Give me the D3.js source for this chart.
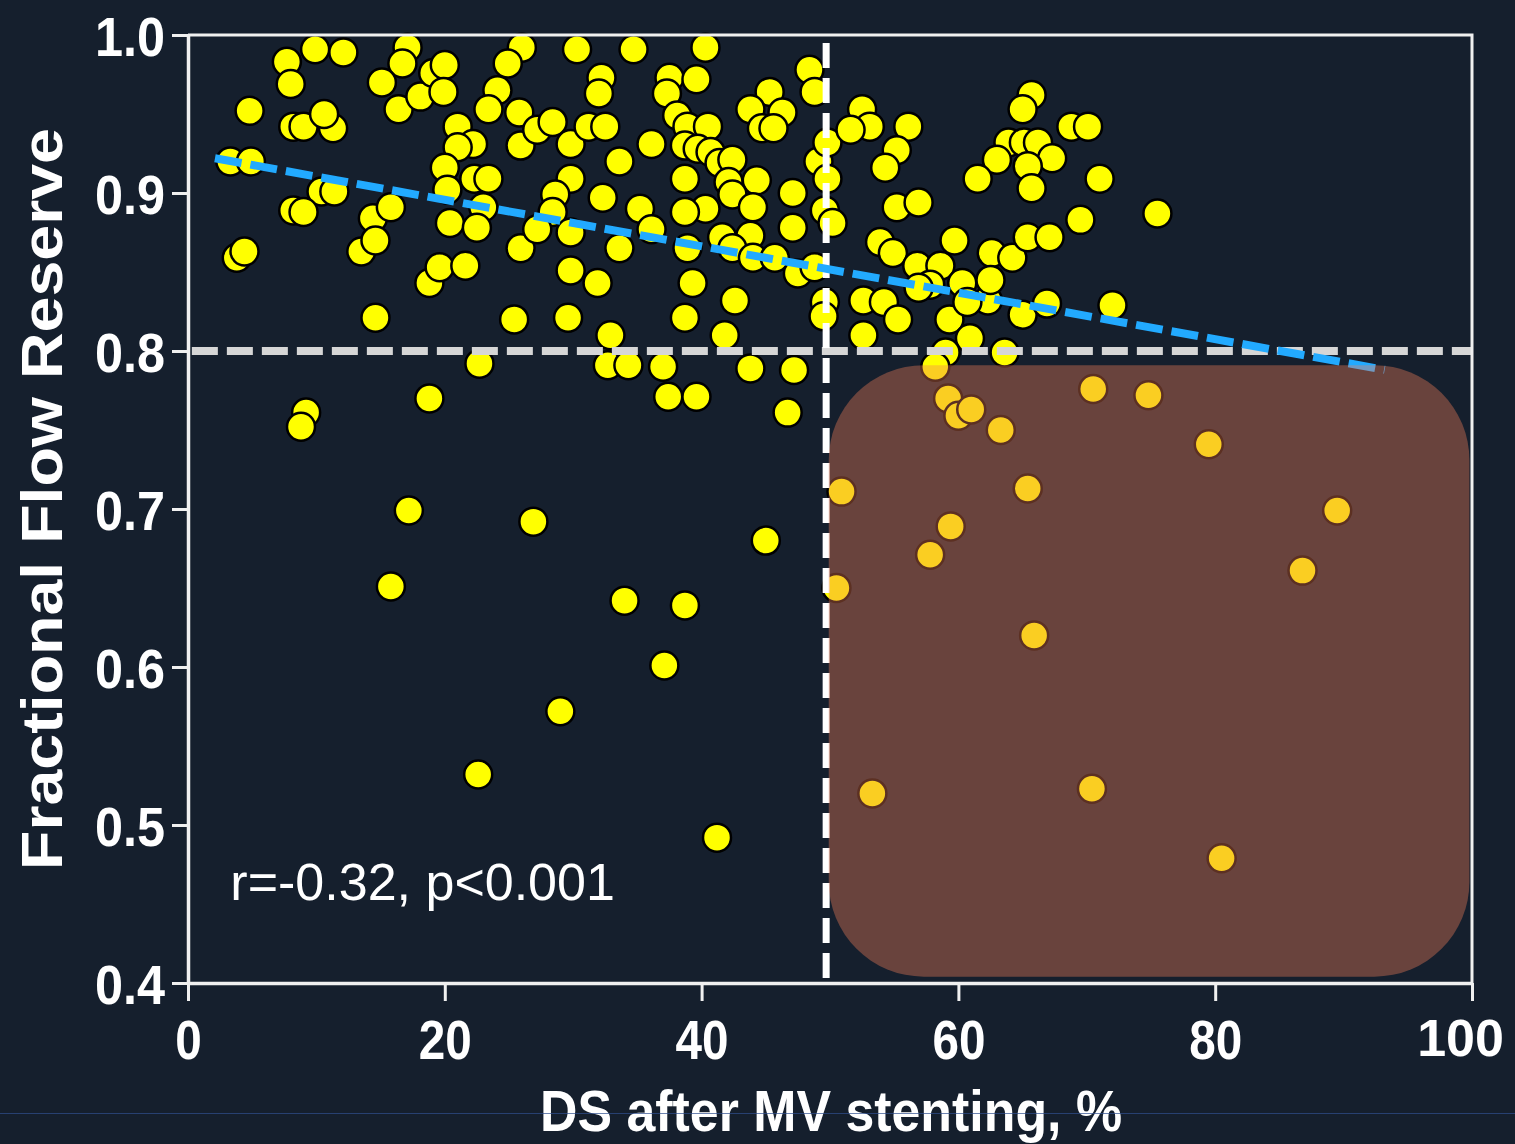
<!DOCTYPE html>
<html>
<head>
<meta charset="utf-8">
<script src="https://cdn.jsdelivr.net/npm/d3@7"></script>
<style>
  html, body { margin: 0; padding: 0; background: #151f2d; }
  svg { display: block; }
</style>
</head>
<body>
<svg id="chart" width="1515" height="1144"></svg>
<script>
// axis ticks
const xTicks = [0, 20, 40, 60, 80, 100];
const yTicks = [0.4, 0.5, 0.6, 0.7, 0.8, 0.9, 1.0];

// DS after MV stenting (%) and FFR, one entry per lesion
const dsValues = [
  7.7, 9.9, 12.1, 8.0, 4.8, 8.2, 9.0, 11.3, 10.6, 3.3, 4.9, 10.4, 11.4, 8.2, 9.0, 3.8, 4.4,
  14.4, 15.8, 13.5, 14.6, 17.1, 16.7, 15.1, 16.4, 18.1, 19.1, 20.0, 19.9, 26.0, 24.9, 24.1,
  23.4, 25.8, 25.9, 21.0, 22.2, 21.0, 20.0, 22.3, 23.4, 20.2, 23.0, 20.4, 22.5, 25.9, 18.8,
  19.6, 21.6, 14.6, 25.4, 22.7, 18.8, 9.2, 8.8, 27.2,
  30.3, 34.7, 40.3, 32.2, 32.0, 37.5, 39.6, 37.3, 38.1, 38.9, 40.5, 48.4, 48.8, 45.3, 46.3,
  43.8, 44.7, 45.6, 28.4, 29.8, 31.2, 32.5, 36.1, 38.7, 39.7, 40.7, 41.4, 42.4, 33.6, 29.8,
  28.6, 32.3, 38.7, 42.1, 44.3, 42.4, 44.0, 40.3, 38.7, 35.2, 28.4, 47.1, 49.1, 49.8, 49.8,
  49.6, 50.2, 47.1, 27.2, 29.8, 33.6, 36.1, 38.9, 41.6, 43.8, 42.4, 44.0, 45.7, 47.5, 48.8,
  29.8, 31.9, 39.3, 42.6, 29.6, 38.7, 41.8, 32.9, 49.6, 49.5, 32.7, 34.3, 37.0, 43.8, 47.2,
  37.4, 39.6, 46.7,
  52.5, 53.1, 51.6, 56.1, 55.2, 54.3, 55.2, 56.9, 53.9, 54.9, 56.8, 58.6, 59.7, 57.8, 56.9,
  60.3, 52.6, 54.2, 55.3, 52.6, 59.3, 60.9, 59.0, 65.7, 65.0, 68.8, 70.1, 63.9, 65.1, 66.2,
  67.3, 63.0, 61.5, 65.4, 65.7, 71.0, 75.5, 69.5, 62.6, 64.2, 65.4, 67.1, 62.3, 62.5, 60.7,
  65.0, 66.9, 72.0, 63.6,
  58.2, 59.2, 60.0, 61.0, 63.3, 70.5, 74.8, 79.5, 50.9, 65.4, 89.5, 59.4, 57.8, 86.8, 50.5,
  65.9, 53.3, 70.4, 80.5,
  17.2, 26.9, 45.0, 15.8, 34.0, 38.7, 37.1, 29.0, 22.6, 41.2
];
const ffrValues = [
  0.983, 0.991, 0.989, 0.969, 0.952, 0.942, 0.942, 0.941, 0.950, 0.920, 0.920, 0.901, 0.901, 0.889, 0.888, 0.859, 0.863,
  0.884, 0.891, 0.863, 0.870, 0.992, 0.982, 0.970, 0.953, 0.961, 0.976, 0.981, 0.964, 0.992, 0.982, 0.965,
  0.953, 0.951, 0.930, 0.942, 0.931, 0.929, 0.916, 0.909, 0.909, 0.902, 0.891, 0.881, 0.878, 0.865, 0.843,
  0.853, 0.854, 0.821, 0.820, 0.792, 0.770, 0.761, 0.752, 0.940,
  0.991, 0.991, 0.992, 0.973, 0.963, 0.973, 0.972, 0.963, 0.949, 0.942, 0.942, 0.978, 0.964, 0.964, 0.951,
  0.953, 0.941, 0.941, 0.945, 0.931, 0.942, 0.942, 0.931, 0.930, 0.928, 0.926, 0.919, 0.921, 0.920, 0.909,
  0.899, 0.897, 0.909, 0.907, 0.908, 0.899, 0.891, 0.890, 0.888, 0.890, 0.888, 0.900, 0.920, 0.932, 0.909,
  0.889, 0.881, 0.878, 0.877, 0.875, 0.865, 0.877, 0.865, 0.872, 0.873, 0.865, 0.859, 0.859, 0.849, 0.853,
  0.851, 0.843, 0.843, 0.832, 0.821, 0.821, 0.810, 0.810, 0.831, 0.822, 0.791, 0.791, 0.790, 0.789, 0.788,
  0.771, 0.771, 0.761,
  0.953, 0.942, 0.940, 0.942, 0.927, 0.916, 0.891, 0.894, 0.869, 0.862, 0.854, 0.854, 0.870, 0.842, 0.840,
  0.843, 0.832, 0.831, 0.820, 0.810, 0.820, 0.808, 0.799, 0.962, 0.953, 0.942, 0.942, 0.932, 0.932, 0.932,
  0.922, 0.921, 0.909, 0.917, 0.903, 0.909, 0.887, 0.883, 0.862, 0.859, 0.872, 0.872, 0.832, 0.845, 0.831,
  0.823, 0.830, 0.829, 0.799,
  0.790, 0.770, 0.759, 0.763, 0.750, 0.776, 0.772, 0.741, 0.711, 0.713, 0.699, 0.689, 0.671, 0.661, 0.650,
  0.620, 0.520, 0.523, 0.479,
  0.699, 0.692, 0.680, 0.651, 0.642, 0.639, 0.601, 0.572, 0.532, 0.492
];

// regression line (FFR = intercept + slope * DS) and cut-offs
const fitLine = { intercept: 0.9251, slope: -0.00147, from: 2.1, to: 93.2 };
const ffrCutoff = 0.8;
const dsCutoff = 49.7;
// shaded quadrant (DS range, FFR range)
const shadeDs = [49.9, 99.8];
const shadeFfr = [0.404, 0.791];
const corrText = "r=-0.32, p<0.001";

const W = 1515, H = 1144;
const margin = { top: 35, right: 43, bottom: 161, left: 188 };

const svg = d3.select("#chart");
const font = "'Liberation Sans', Arial, sans-serif";

svg.append("rect").attr("width", W).attr("height", H).attr("fill", "#151f2d");

const x = d3.scaleLinear().domain([0, 100]).range([margin.left, W - margin.right]);
const y = d3.scaleLinear().domain([0.4, 1.0]).range([H - margin.bottom, margin.top]);

const points = dsValues.map((d, i) => ({ ds: d, ffr: ffrValues[i] }));

// Points
svg.append("g")
  .selectAll("circle")
  .data(points)
  .enter()
  .append("circle")
  .attr("cx", d => x(d.ds))
  .attr("cy", d => y(d.ffr))
  .attr("r", 14)
  .attr("fill", "#ffff00")
  .attr("stroke", "#000")
  .attr("stroke-width", 2.5);

// FFR 0.8 cut-off
svg.append("line")
  .attr("x1", x(0.3)).attr("x2", x(100))
  .attr("y1", y(ffrCutoff)).attr("y2", y(ffrCutoff))
  .attr("stroke", "#d6d6d6")
  .attr("stroke-width", 8)
  .attr("stroke-dasharray", "26,9");

// DS 50% cut-off
svg.append("line")
  .attr("x1", x(dsCutoff)).attr("x2", x(dsCutoff))
  .attr("y1", y(0.995)).attr("y2", y(0.4))
  .attr("stroke", "#ffffff")
  .attr("stroke-width", 7)
  .attr("stroke-dasharray", "25,10");

// regression line
svg.append("line")
  .attr("x1", x(fitLine.from))
  .attr("y1", y(fitLine.intercept + fitLine.slope * fitLine.from))
  .attr("x2", x(fitLine.to))
  .attr("y2", y(fitLine.intercept + fitLine.slope * fitLine.to))
  .attr("stroke", "#22aaff")
  .attr("stroke-width", 8)
  .attr("stroke-dasharray", "27,9");

// shaded quadrant drawn over the marks
svg.append("rect")
  .attr("x", x(shadeDs[0]))
  .attr("y", y(shadeFfr[1]))
  .attr("width", x(shadeDs[1]) - x(shadeDs[0]))
  .attr("height", y(shadeFfr[0]) - y(shadeFfr[1]))
  .attr("rx", 95).attr("ry", 95)
  .attr("fill", "rgb(242,126,90)")
  .attr("opacity", 0.38);

// frame (top + right)
svg.append("path")
  .attr("d", `M${x(0)},${y(1)}H${x(100)}V${y(0.4)}`)
  .attr("fill", "none")
  .attr("stroke", "#f0f0f0")
  .attr("stroke-width", 3);

// Axes
const yAxis = svg.append("g")
  .attr("transform", `translate(${x(0)},0)`)
  .call(d3.axisLeft(y).tickValues(yTicks).tickFormat(d3.format(".1f"))
    .tickSize(16).tickSizeOuter(0).tickPadding(7));

const xAxis = svg.append("g")
  .attr("transform", `translate(0,${y(0.4)})`)
  .call(d3.axisBottom(x).tickValues(xTicks).tickFormat(d3.format("d"))
    .tickSize(18).tickSizeOuter(0).tickPadding(18));

[yAxis, xAxis].forEach(ax => {
  ax.select(".domain").attr("stroke", "#f0f0f0").attr("stroke-width", 3.5);
  ax.selectAll(".tick line").attr("stroke", "#f0f0f0").attr("stroke-width", 3);
  ax.selectAll(".tick text")
    .attr("fill", "#ffffff")
    .attr("font-family", font)
    .attr("font-weight", "bold")
    .attr("font-size", 56)
    .attr("lengthAdjust", "spacingAndGlyphs");
});
// the slide font is a little condensed
yAxis.selectAll(".tick text").attr("textLength", 70).attr("dy", "0.36em");
xAxis.selectAll(".tick text").filter(d => d !== 100)
  .attr("textLength", function () { return this.textContent.length * 26.5; });
// keep the last label inside the page
xAxis.selectAll(".tick text").filter(d => d === 100)
  .attr("font-size", 52)
  .attr("dx", -12);

// Axis titles
svg.append("text")
  .attr("x", 831)
  .attr("y", 1131)
  .attr("text-anchor", "middle")
  .attr("font-family", font)
  .attr("font-weight", "bold")
  .attr("font-size", 58)
  .attr("fill", "#ffffff")
  .attr("textLength", 582)
  .attr("lengthAdjust", "spacingAndGlyphs")
  .text("DS after MV stenting, %");

svg.append("text")
  .attr("transform", "translate(62,499) rotate(-90)")
  .attr("text-anchor", "middle")
  .attr("font-family", font)
  .attr("font-weight", "bold")
  .attr("font-size", 58)
  .attr("fill", "#ffffff")
  .attr("textLength", 742)
  .attr("lengthAdjust", "spacingAndGlyphs")
  .text("Fractional  Flow  Reserve");

// correlation note
svg.append("text")
  .attr("x", x(3.3))
  .attr("y", 900)
  .attr("font-family", font)
  .attr("font-size", 52)
  .attr("fill", "#ffffff")
  .text(corrText);

// faint scan line near the bottom of the slide
svg.append("line")
  .attr("x1", 0).attr("x2", W)
  .attr("y1", 1113.5).attr("y2", 1113.5)
  .attr("stroke", "#2f4f8f")
  .attr("stroke-width", 1)
  .attr("opacity", 0.7);
</script>
</body>
</html>
